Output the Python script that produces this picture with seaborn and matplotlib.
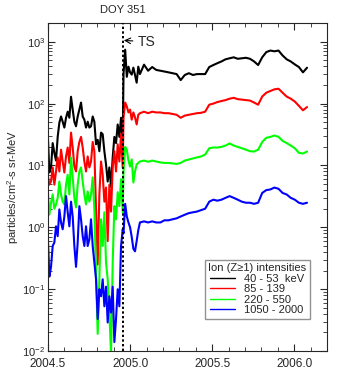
import matplotlib
matplotlib.use("Agg")
import matplotlib.pyplot as plt
import matplotlib.ticker as mticker
import numpy as np
import pandas as pd
import seaborn as sns

# time axis (decimal year): pre-shock samples, then post-shock samples
t_pre = np.linspace(2004.498, 2004.955, 46)
t_post = np.concatenate([np.linspace(2004.960, 2005.060, 11),
                         np.linspace(2005.085, 2006.078, 41)])

channels = ["40 - 53  keV", "85 - 139", "220 - 550", "1050 - 2000"]
colors = ["#000000", "#ff0000", "#00ff00", "#0000ff"]

# intensities, particles/cm2-s sr-MeV
black_pre = [36, 7.7, 9.3, 23, 16, 12, 29, 49, 62, 51, 41, 59, 74, 59, 129, 80,
             51, 43, 62, 80, 104, 62, 55, 41, 51, 41, 43, 62, 51, 22, 26, 17,
             34, 32, 17, 10.4, 5.5, 9.3, 4.5, 13.5, 29, 23, 46, 29, 59, 24]
black_post = [300, 743, 271, 395, 320, 294, 381, 290, 218, 395, 300,
              426, 340, 390, 350, 340, 330, 320, 310, 300, 240, 290, 310, 290, 300,
              300, 300, 390, 420, 450, 480, 520, 540, 560, 530, 540, 550, 530, 480,
              420, 560, 680, 720, 700, 720, 600, 520, 480, 430, 390, 320, 380]

red_pre = [7.1, 4.9, 5.5, 9.3, 4.9, 8, 13.5, 8, 18, 11.6, 7.7, 14, 19.5, 11, 34,
           19.5, 9.6, 8, 17, 24, 29, 19.5, 11.6, 8, 14, 9.3, 11.6, 24, 17, 2.0,
           0.25, 3.4, 11.6, 7.1, 2.6, 4.4, 0.6, 4.9, 1.8, 9.3, 17, 8, 22, 11.6,
           32, 9.3]
red_post = [60, 104, 90, 72, 80, 55, 72, 60, 46, 66, 70,
            74, 70, 74, 72, 72, 70, 70, 68, 66, 59, 64, 66, 68, 70, 71, 74, 96,
            100, 106, 110, 114, 120, 124, 118, 116, 114, 112, 104, 96, 130, 150,
            160, 170, 174, 150, 130, 120, 108, 92, 78, 88]

green_pre = [4.4, 1.6, 2.5, 3.4, 2.0, 2.35, 3.0, 5.5, 3.4, 2.6, 2.35, 4.9, 7.1,
             3.4, 13.5, 6.4, 3.0, 2.1, 4.9, 8, 9.3, 5.5, 3.4, 2.35, 3.8, 2.6, 3.4,
             6.4, 2.0, 0.19, 0.019, 0.145, 1.35, 0.5, 1.75, 0.27, 0.145, 0.042,
             0.009, 0.27, 2.2, 1.35, 3.7, 2.2, 6, 1.75]
green_post = [8, 20, 18, 12, 9.6, 12.5, 5.3, 8, 10.4, 11, 11.6,
              12, 11.5, 12, 11.6, 11.2, 11, 11, 10.8, 10.6, 11, 12, 12.5, 13, 13.5,
              14, 15, 19, 19.5, 19.5, 20, 21, 22.7, 21, 20, 19, 18, 17, 16.8, 18,
              24, 28, 29, 30.5, 29, 25, 23, 21, 19, 16, 15.6, 16.8]

blue_pre = [0.83, 0.16, 0.23, 0.5, 0.57, 1.04, 0.72, 1.95, 1.2, 0.93, 1.5, 3.2,
            1.75, 1.04, 2.6, 1.5, 0.5, 0.23, 0.57, 2.2, 1.35, 0.72, 0.5, 1.04, 0.5,
            0.64, 1.35, 0.5, 0.27, 0.145, 0.033, 0.1, 0.077, 0.145, 0.053, 0.11,
            0.029, 0.077, 0.042, 0.11, 0.014, 0.033, 0.1, 0.053, 0.5, 0.93]
blue_post = [0.8, 2.4, 1.5, 1.2, 1.0, 0.7, 0.45, 0.41, 0.6, 0.9, 1.2,
             1.25, 1.2, 1.25, 1.2, 1.2, 1.3, 1.3, 1.35, 1.4, 1.5, 1.6, 1.7, 1.75,
             1.8, 1.9, 2.0, 2.6, 2.8, 2.7, 2.8, 3.0, 3.2, 3.0, 2.8, 2.6, 2.5, 2.5,
             2.4, 2.5, 3.6, 4.0, 4.1, 4.4, 4.2, 3.6, 3.4, 3.0, 2.8, 2.5, 2.4, 2.5]

t_shock = 2004.958  # DOY 351

series = [black_pre + black_post, red_pre + red_post,
          green_pre + green_post, blue_pre + blue_post]
t_all = np.concatenate([t_pre, t_post])
df = pd.concat([pd.DataFrame({"year": t_all, "flux": vals, "channel": ch})
                for ch, vals in zip(channels, series)], ignore_index=True)

sns.set_style("ticks")
plt.rcParams["font.family"] = ["Liberation Sans", "DejaVu Sans"]
plt.rcParams["mathtext.default"] = "regular"
plt.rcParams["xtick.direction"] = "in"
plt.rcParams["ytick.direction"] = "in"
plt.rcParams["xtick.top"] = True
plt.rcParams["ytick.right"] = True

fig = plt.figure(figsize=(3.61, 3.85), dpi=100)
ax = fig.add_axes([0.133, 0.088, 0.773, 0.852])

sns.lineplot(data=df, x="year", y="flux", hue="channel", hue_order=channels,
             palette=dict(zip(channels, colors)), estimator=None, sort=False,
             linewidth=1.5, ax=ax)

ax.set_yscale("log")
ax.set_ylim(1e-2, 2000)
ax.set_xlim(2004.5, 2006.2)
ax.xaxis.set_major_locator(mticker.MultipleLocator(0.5))
ax.xaxis.set_minor_locator(mticker.MultipleLocator(0.1))
ax.xaxis.set_major_formatter(mticker.FormatStrFormatter("%.1f"))
ax.yaxis.set_minor_locator(mticker.LogLocator(base=10, subs=np.arange(2, 10), numticks=20))
ax.yaxis.set_minor_formatter(mticker.NullFormatter())
ax.tick_params(which="major", length=5, width=0.8, labelsize=8, pad=2)
ax.tick_params(axis="x", which="major", labelsize=8.5, pad=5)
ax.tick_params(which="minor", length=3, width=0.6)
for s in ax.spines.values():
    s.set_linewidth(0.8)

ax.set_xlabel("")
ax.set_ylabel("particles/cm$^2$-s sr-MeV", fontsize=8, labelpad=0.5)

ax.axvline(t_shock, color="black", ls=(0, (1.2, 1.2)), lw=1.4, zorder=5)
ax.text(t_shock, 1.025, "DOY 351", transform=ax.get_xaxis_transform(),
        ha="center", va="bottom", fontsize=8)
ax.annotate("TS", xy=(t_shock + 0.004, 1050), xytext=(2005.045, 1000),
            fontsize=10, va="center", ha="left",
            arrowprops=dict(arrowstyle="->", lw=0.8, color="black",
                            shrinkA=1, shrinkB=0))

sns.move_legend(ax, "lower right", bbox_to_anchor=(0.957, 0.082),
                title="Ion (Z\u22651) intensities", frameon=True, fancybox=False,
                fontsize=8, title_fontsize=8, handlelength=2.3,
                borderpad=0.3, labelspacing=0.05, handletextpad=0.8)
leg = ax.get_legend()
leg.get_frame().set_edgecolor("#777777")
leg.get_frame().set_linewidth(1.0)
for h in leg.get_lines():
    h.set_linewidth(1.0)

fig.savefig("out.png", dpi=100)
